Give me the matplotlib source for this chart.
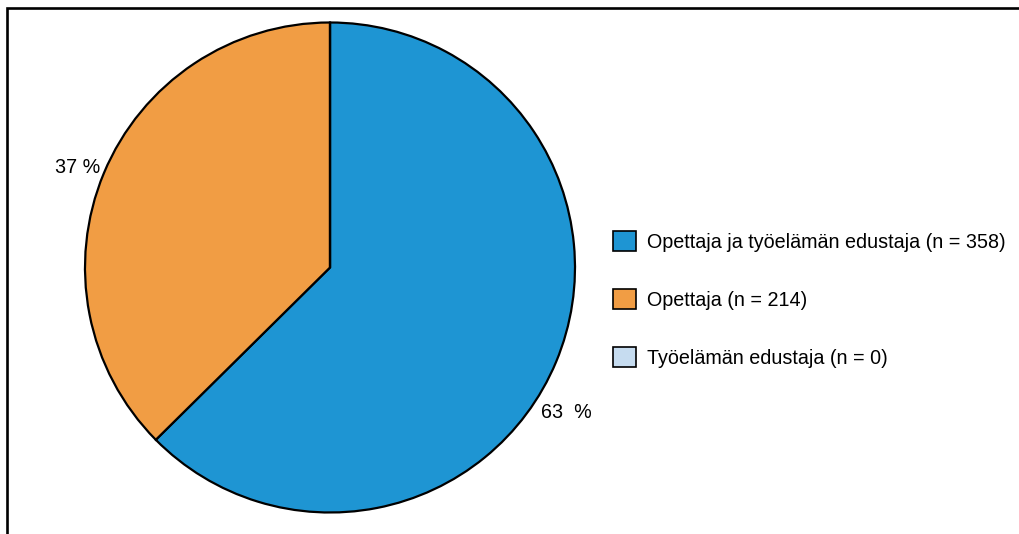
import matplotlib
matplotlib.use("Agg")
import matplotlib.pyplot as plt
from matplotlib.patches import Rectangle
import numpy as np

# Respondent groups and counts
categories = ["Opettaja ja työelämän edustaja", "Opettaja", "Työelämän edustaja"]
counts = [358, 214, 0]
colors = ["#1E95D3", "#F19D44", "#C6DCF0"]
pct_labels = ["63  %", "37 %", ""]

W, H, DPI = 1019, 534, 100

plt.rcParams["font.family"] = ["Liberation Sans", "DejaVu Sans"]
FS = 14.2
fs_px = FS * DPI / 72

fig = plt.figure(figsize=(W / DPI, H / DPI), dpi=DPI)

# pie axes: centre and radius in pixels
cx, cy, r = 330, 534 - 267.5, 245
ax = fig.add_axes([(cx - r) / W, (cy - r) / H, 2 * r / W, 2 * r / H])
wedges, _ = ax.pie(counts, colors=colors, startangle=90, counterclock=False,
                   wedgeprops=dict(edgecolor="black", linewidth=1.6))
ax.set_xlim(-1, 1)
ax.set_ylim(-1, 1)
ax.set_aspect("equal")
ax.axis("off")

# percentage labels placed just outside their wedges
label_pos = [(-34.6, 1.045, "left"), (156.6, 1.023, "right")]
for (ang, dist, ha), txt in zip(label_pos, pct_labels):
    a = np.deg2rad(ang)
    ax.text(dist * np.cos(a), dist * np.sin(a), txt, ha=ha, va="center",
            fontsize=FS, clip_on=False)

legend_labels = [f"{c} (n = {n})" for c, n in zip(categories, counts)]
box = 23 / fs_px
leg = fig.legend(wedges, legend_labels, loc="center left",
                 bbox_to_anchor=(613 / W, 1 - 299.5 / H), frameon=False,
                 fontsize=FS, handlelength=box, handleheight=box,
                 handletextpad=11 / fs_px, labelspacing=37.5 / fs_px,
                 borderpad=0, borderaxespad=0)
for h in leg.legend_handles:
    h.set_linewidth(1.2)

# outer frame
fig.add_artist(Rectangle((6.5 / W, -0.1), 1.2, (1 - 8.5 / H) + 0.1,
                         transform=fig.transFigure, fill=False,
                         edgecolor="black", linewidth=1.9))

fig.savefig("out.png", dpi=DPI)
